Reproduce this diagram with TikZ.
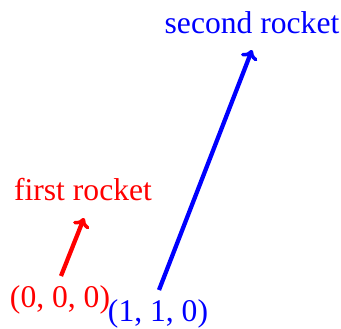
\documentclass[tikz,border=0pt]{standalone}
\usepackage{fontspec}
\setmainfont{Liberation Serif}
\usetikzlibrary{arrows.meta}
\begin{document}
\begin{tikzpicture}[x=0.75pt, y=-0.75pt,
  every node/.style={font=\fontsize{23.7}{28}\selectfont, inner sep=0pt},
  rocket/.style={line width=3.2pt, -{To[length=7pt,width=13pt,line width=2.6pt]}}]
  \useasboundingbox (0,0) rectangle (341,328);
  % labels
  \node[red] (origA) at (60,300) {(0, 0, 0)};
  \node[blue] (origB) at (158,314) {(1, 1, 0)};
  \node[red] (nameA) at (83,190) {first rocket};
  \node[blue] (nameB) at (252,23) {second rocket};
  % rockets
  \coordinate (tailA) at (61,276);
  \coordinate (tipA) at (84,218);
  \coordinate (tailB) at (159,290);
  \coordinate (tipB) at (252,50);
  \draw[rocket, red] (tailA) -- (tipA);
  \draw[rocket, blue] (tailB) -- (tipB);
\end{tikzpicture}
\end{document}
